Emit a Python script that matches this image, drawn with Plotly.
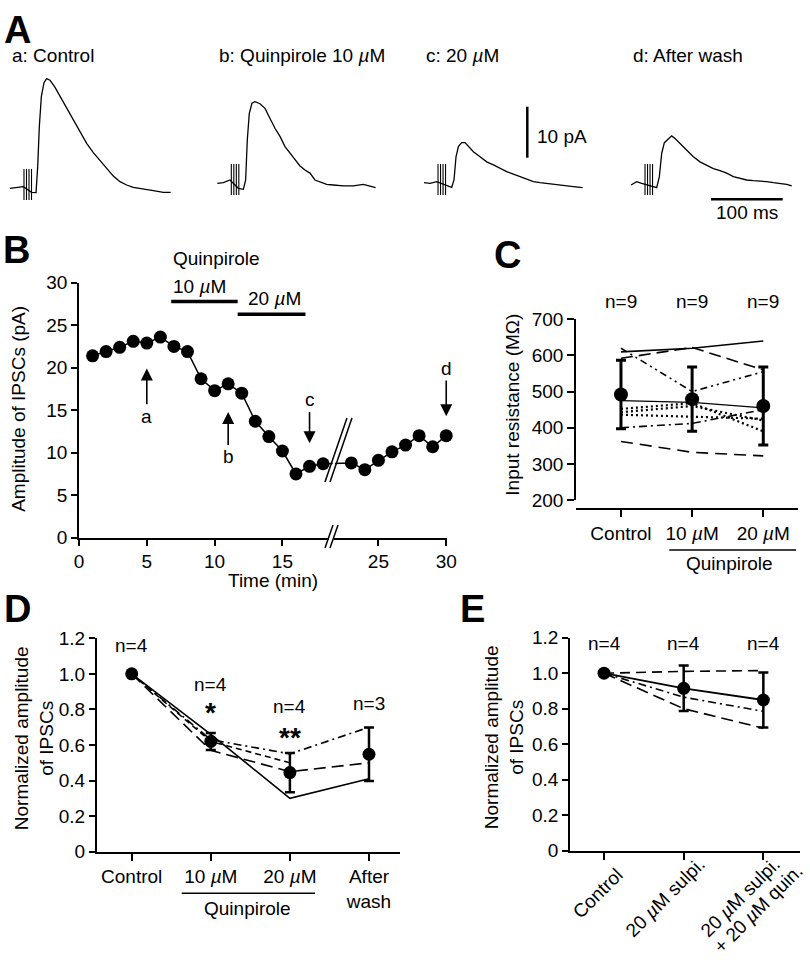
import plotly.graph_objects as go

FONT = "Liberation Sans, Arial, Helvetica, sans-serif"

# ---------------- Panel A: sample IPSC traces (ms from trace start, pA above baseline)
trace_a_t = [0, 9.3, 18.6, 30.2, 36.3, 38.6, 40.9, 43.7, 47.4, 51.1, 55.8, 62.8, 69.7, 79.0, 88.3, 97.6,
             106.9, 116.2, 125.5, 134.8, 144.1, 153.4, 162.7, 172.0, 186.0, 199.9, 213.9, 224.1]
trace_a_i = [0, 0.13, 0.33, -0.78, -0.85, 4.2, 12.1, 18.0, 20.7, 21.5, 21.2, 19.8, 18.1, 15.9, 13.4, 11.1,
             8.8, 7.0, 5.4, 3.9, 2.4, 1.3, 0.65, 0.2, -0.2, -0.46, -0.78, -0.78]
trace_b_t = [0, 8.4, 17.7, 29.3, 36.3, 39.5, 41.8, 44.6, 48.3, 52.5, 59.5, 66.5, 73.5, 80.4, 87.4, 94.4,
             101.4, 108.3, 115.3, 122.3, 129.2, 136.2, 143.2, 152.5, 161.8, 175.7, 189.7, 203.6, 220.8]
trace_b_i = [0, 0.13, 0.65, -0.98, -1.18, 0.65, 8.5, 13.7, 15.7, 16.0, 15.6, 14.7, 12.7, 10.8, 9.2, 7.2,
             5.9, 4.6, 3.4, 2.6, 2.0, 0.65, 0.33, -0.2, -0.33, -0.52, -0.52, -0.2, -0.85]
trace_c_t = [0, 8.4, 17.7, 31.6, 38.6, 41.8, 44.6, 47.9, 52.5, 57.2, 61.8, 68.8, 78.1, 87.4, 96.7, 106.0,
             115.3, 124.6, 133.9, 143.2, 152.5, 161.8, 171.1, 180.4, 189.7, 198.9, 208.3, 221.3]
trace_c_i = [0.13, 0, 0.33, -0.33, -0.78, 0.65, 5.2, 7.2, 7.97, 7.97, 7.3, 6.2, 5.2, 4.2, 3.6, 2.9,
             2.3, 1.8, 1.3, 0.85, 0.33, 0.13, 0, -0.13, -0.33, -0.52, -0.65, -0.85]
trace_d_t = [0, 7.9, 14.9, 31.1, 35.8, 39.5, 42.8, 46.5, 52.1, 56.7, 61.4, 68.3, 77.6, 86.9, 96.2, 105.5,
             114.8, 124.1, 133.4, 142.7, 152.0, 161.3, 170.6, 179.9, 189.2, 198.5, 207.8, 217.1, 224.1]
trace_d_i = [-0.33, 0.33, 0, -0.65, -0.85, 1.3, 5.9, 7.97, 8.8, 9.3, 8.8, 7.8, 6.5, 5.2, 4.2, 3.5,
             2.9, 2.5, 2.0, 1.3, 0.98, 0.65, 0.52, 0.46, 0.33, 0.13, 0, -0.2, -0.52]
trace_labels = ["a: Control", "b: Quinpirole 10 <i>µ</i>M", "c: 20 <i>µ</i>M", "d: After wash"]
artifact_t = [19.5, 23.0, 26.5, 30.0]          # stimulus artefact (ms)
artifact_range = [-2.3, 3.8]                   # pA
SCALE_PA = 10
SCALE_MS = 100

# ---------------- Panel B: time course
time_pre = list(range(1, 19))
amp_pre = [21.4, 21.9, 22.4, 23.1, 22.9, 23.6, 22.5, 21.9, 18.7, 17.3, 18.1, 17.0, 13.7, 11.9, 10.2, 7.5, 8.4, 8.7]
time_post = list(range(23, 31))
amp_post = [8.8, 8.0, 9.1, 10.1, 10.9, 12.0, 10.7, 12.0]
quin_10 = [6.8, 11.7]
quin_20 = [11.7, 16.7]
sample_marks = {"a": 5, "b": 11, "c": 17, "d": 30}

# ---------------- Panel C: input resistance
c_cats = ["Control", "10 <i>µ</i>M", "20 <i>µ</i>M"]
c_cells = [
    [610, 620, 640],
    [592, 622, 560],
    [620, 500, 555],
    [475, 470, 455],
    [452, 468, 390],
    [443, 460, 420],
    [436, 430, 425],
    [400, 412, 450],
    [362, 332, 322],
]
c_mean = [492, 479, 460]
c_err = [95, 89, 108]
c_n = ["n=9", "n=9", "n=9"]

# ---------------- Panel D: normalized amplitude, quinpirole
d_cats = ["Control", "10 <i>µ</i>M", "20 <i>µ</i>M", "After<br>wash"]
d_cells = [
    [1.0, 0.66, 0.30, 0.41],
    [1.0, 0.63, 0.55, 0.70],
    [1.0, 0.57, 0.45, 0.50],
    [1.0, 0.62, 0.50, None],
]
d_mean = [1.0, 0.62, 0.445, 0.548]
d_err = [0, 0.048, 0.11, 0.15]
d_n = ["n=4", "n=4", "n=4", "n=3"]

# ---------------- Panel E: normalized amplitude, sulpiride
e_cats = ["Control", "20 <i>µ</i>M sulpi.", "20 <i>µ</i>M sulpi.", "+ 20 <i>µ</i>M quin."]
e_cells = [
    [1.0, 1.01, 1.015],
    [1.0, 0.865, 0.785],
    [1.0, 0.80, 0.69],
]
e_mean = [1.0, 0.915, 0.849]
e_err = [0, 0.128, 0.155]
e_n = ["n=4", "n=4", "n=4"]

BREAK_GAP = 2.92  # minutes removed by the axis break in B


def shift(t):
    return t if t < 20 else t - BREAK_GAP


def ppx(p):
    return p / 810


def ppy(p):
    return 1 - p / 960


fig = go.Figure()
BLK = "black"

# ---- A traces
offsets = [13.95, 303.1, 591.4, 880.1]
bases = [0, 0.98, 0.98, 0.98]
for t, i, off, base in zip([trace_a_t, trace_b_t, trace_c_t, trace_d_t],
                           [trace_a_i, trace_b_i, trace_c_i, trace_d_i], offsets, bases):
    fig.add_trace(go.Scatter(x=[off + v for v in t], y=[base + v for v in i], mode="lines",
                             line=dict(color=BLK, width=1.3), xaxis="x", yaxis="y"))
    ax_, ay_ = [], []
    for a in artifact_t:
        ax_ += [off + a, off + a, None]
        ay_ += [base + artifact_range[0], base + artifact_range[1], None]
    fig.add_trace(go.Scatter(x=ax_, y=ay_, mode="lines", line=dict(color=BLK, width=1.1),
                             xaxis="x", yaxis="y"))
# scale bars
fig.add_trace(go.Scatter(x=[735.4, 735.4], y=[6.0, 6.0 + SCALE_PA], mode="lines",
                         line=dict(color=BLK, width=2.5), xaxis="x", yaxis="y"))
fig.add_trace(go.Scatter(x=[991.6, 991.6 + SCALE_MS], y=[-2.16, -2.16], mode="lines",
                         line=dict(color=BLK, width=2.5), xaxis="x", yaxis="y"))

# ---- B
for xs, ys in [(quin_10, 27.8), (quin_20, 26.3)]:
    fig.add_trace(go.Scatter(x=xs, y=[ys, ys], mode="lines", line=dict(color=BLK, width=3.5),
                             xaxis="x2", yaxis="y2"))
fig.add_trace(go.Scatter(x=[shift(t) for t in time_pre + time_post], y=amp_pre + amp_post,
                         mode="lines+markers", line=dict(color=BLK, width=1.5),
                         marker=dict(color=BLK, size=13), cliponaxis=False,
                         xaxis="x2", yaxis="y2"))

# ---- C
c_dash = ["solid", "12px,6px", "7px,4px,2px,4px,2px,4px", "solid", "2px,3px", "2px,3px", "2px,3px",
          "8px,4px,2px,4px", "12px,7px"]
c_width = [1.6, 1.6, 1.6, 1.1, 2.2, 2.2, 2.2, 1.6, 1.6]
for vals, dsh, w in zip(c_cells, c_dash, c_width):
    fig.add_trace(go.Scatter(x=[0, 1, 2], y=vals, mode="lines", line=dict(color=BLK, width=w, dash=dsh),
                             xaxis="x3", yaxis="y3"))
fig.add_trace(go.Scatter(x=[0, 1, 2], y=c_mean, mode="markers", marker=dict(color=BLK, size=14),
                         error_y=dict(type="data", array=c_err, color=BLK, thickness=3, width=5),
                         xaxis="x3", yaxis="y3"))

# ---- D
d_dash = ["solid", "8px,4px,2px,4px", "12px,6px", "6px,4px"]
for vals, dsh in zip(d_cells, d_dash):
    xs = [k for k, v in enumerate(vals) if v is not None]
    fig.add_trace(go.Scatter(x=xs, y=[vals[k] for k in xs], mode="lines",
                             line=dict(color=BLK, width=1.6, dash=dsh), xaxis="x4", yaxis="y4"))
fig.add_trace(go.Scatter(x=[0, 1, 2, 3], y=d_mean, mode="markers", marker=dict(color=BLK, size=13),
                         error_y=dict(type="data", array=d_err, color=BLK, thickness=2.5, width=5),
                         xaxis="x4", yaxis="y4"))

# ---- E
e_dash = ["10px,6px", "8px,4px,2px,4px", "12px,6px"]
for vals, dsh in zip(e_cells, e_dash):
    fig.add_trace(go.Scatter(x=[0, 1, 2], y=vals, mode="lines", line=dict(color=BLK, width=1.6, dash=dsh),
                             xaxis="x5", yaxis="y5"))
fig.add_trace(go.Scatter(x=[0, 1, 2], y=e_mean, mode="lines+markers", line=dict(color=BLK, width=1.8),
                         marker=dict(color=BLK, size=13),
                         error_y=dict(type="data", array=e_err, color=BLK, thickness=2.5, width=5),
                         xaxis="x5", yaxis="y5"))

# ---- axes
common = dict(showgrid=False, zeroline=False, showline=True, linecolor=BLK, linewidth=1.6,
              ticks="outside", tickcolor=BLK, tickwidth=1.6, ticklen=6, fixedrange=True, automargin=False,
              tickfont=dict(family=FONT, size=19, color=BLK))
norm_ticks = [0, 0.2, 0.4, 0.6, 0.8, 1.0, 1.2]
norm_text = ["0", "0.2", "0.4", "0.6", "0.8", "1.0", "1.2"]

fig.update_layout(
    width=810, height=960, margin=dict(l=0, r=0, t=0, b=0, pad=0, autoexpand=False),
    paper_bgcolor="white", plot_bgcolor="white", showlegend=False,
    font=dict(family=FONT, size=19, color=BLK),
    xaxis=dict(visible=False, domain=[0, 1], range=[0, 1129.7], anchor="y", fixedrange=True),
    yaxis=dict(visible=False, domain=[ppy(215), ppy(40)], range=[-5.235, 29.08], anchor="x", fixedrange=True),
    xaxis2=dict(common, domain=[ppx(79), ppx(446.5)], range=[0, 27.1], anchor="y2",
                tickvals=[shift(t) for t in [0, 5, 10, 15, 25, 30]], ticktext=["0", "5", "10", "15", "25", "30"]),
    yaxis2=dict(common, domain=[ppy(537.7), ppy(282.7)], range=[0, 30], anchor="x2",
                tickvals=[0, 5, 10, 15, 20, 25, 30]),
    xaxis3=dict(common, domain=[ppx(576), ppx(798)], range=[-0.632, 2.488], anchor="free",
                position=ppy(509.3), tickvals=[0, 1, 2], ticktext=c_cats, ticklen=7),
    yaxis3=dict(common, domain=[ppy(500), ppy(319.3)], range=[200, 700], anchor="x3",
                tickvals=[200, 300, 400, 500, 600, 700], ticklen=7),
    xaxis4=dict(common, domain=[ppx(96.7), ppx(400)], range=[-0.4425, 3.392], anchor="y4",
                tickvals=[0, 1, 2, 3], ticktext=d_cats, ticklen=7),
    yaxis4=dict(common, domain=[ppy(851.7), ppy(638.3)], range=[0, 1.2], anchor="x4",
                tickvals=norm_ticks, ticktext=norm_text),
    xaxis5=dict(common, domain=[ppx(570), ppx(800)], range=[-0.427, 2.46], anchor="y5",
                tickvals=[0, 1, 2], showticklabels=False, ticklen=7),
    yaxis5=dict(common, domain=[ppy(850.7), ppy(637.7)], range=[0, 1.2], anchor="x5",
                tickvals=norm_ticks, ticktext=norm_text),
)

# ---- shapes
shapes = []
# B: break in data line
b1 = [(18.14, 6.55), (19.76, 14.08)]
b2 = [(18.51, 6.55), (20.13, 14.08)]
shapes.append(dict(type="path", xref="x2", yref="y2",
                   path=f"M{b1[0][0]+0.1},{b1[0][1]} L{b1[1][0]+0.1},{b1[1][1]} "
                        f"L{b2[1][0]-0.1},{b2[1][1]} L{b2[0][0]-0.1},{b2[0][1]} Z",
                   fillcolor="white", line=dict(width=0)))
for seg in (b1, b2):
    shapes.append(dict(type="line", xref="x2", yref="y2", x0=seg[0][0], y0=seg[0][1],
                       x1=seg[1][0], y1=seg[1][1], line=dict(color=BLK, width=1.5)))
# B: break on the time axis
shapes.append(dict(type="rect", xref="x2", yref="y2 domain", x0=18.42, x1=18.76, y0=-0.012, y1=0.012,
                   fillcolor="white", line=dict(width=0)))
for x0 in (18.14, 18.51):
    shapes.append(dict(type="line", xref="x2", yref="y2 domain", x0=x0, y0=-0.04, x1=x0 + 0.59, y1=0.05,
                       line=dict(color=BLK, width=1.5)))
# C and D: "Quinpirole" underline
shapes.append(dict(type="line", xref="x3", yref="paper", x0=0.679, x1=2.46, y0=ppy(550), y1=ppy(550),
                   line=dict(color=BLK, width=1.6)))
shapes.append(dict(type="line", xref="x4", yref="paper", x0=0.632, x1=2.317, y0=ppy(893.3), y1=ppy(893.3),
                   line=dict(color=BLK, width=1.6)))
fig.update_layout(shapes=shapes)

# ---- annotations
ann = []


def txt(text, x, y, xref="paper", yref="paper", size=19, xanchor="center", yanchor="middle", angle=0, **kw):
    ann.append(dict(text=text, x=x, y=y, xref=xref, yref=yref, showarrow=False, textangle=angle,
                    font=dict(family=FONT, size=size, color=BLK), xanchor=xanchor, yanchor=yanchor, **kw))


# panel letters
for letter, cx, cy in [("A", 17, 30), ("B", 16.5, 250), ("C", 507.5, 255), ("D", 17.5, 609), ("E", 472.5, 609)]:
    txt(f"<b>{letter}</b>", ppx(cx), ppy(cy), size=38)

# A labels
for lab, off in zip(trace_labels, offsets):
    txt(lab, off, 26.1, xref="x", yref="y", xanchor="left")
txt("10 pA", 746.2, 10.25, xref="x", yref="y", xanchor="left")
txt("100 ms", 991.6 + SCALE_MS / 2, -4.84, xref="x", yref="y")

# B labels
txt("Quinpirole", 6.8, ppy(258), xref="x2", yref="paper", xanchor="left")
txt("10 <i>µ</i>M", 6.8, 29.6, xref="x2", yref="y2", xanchor="left")
txt("20 <i>µ</i>M", 12.3, 28.1, xref="x2", yref="y2", xanchor="left")
txt("Time (min)", 14.3, ppy(580), xref="x2", yref="paper")
txt("Amplitude of IPSCs (pA)", ppx(18.3), ppy(408.5), angle=-90)
arrow_specs = {"a": (19.9, 14.3), "b": (14.8, 9.5), "c": (11.1, 16.2), "d": (14.3, 19.9)}
for key, t in sample_marks.items():
    tip, lab = arrow_specs[key]
    ann.append(dict(text=key, x=shift(t), y=tip, xref="x2", yref="y2", ax=shift(t), ay=lab,
                    axref="x2", ayref="y2", showarrow=True, arrowhead=2, arrowsize=1.5, arrowwidth=1.6,
                    arrowcolor=BLK, standoff=0, font=dict(family=FONT, size=19, color=BLK)))

# C labels
for k, lab in enumerate(c_n):
    txt(lab, k, ppy(301.7), xref="x3", yref="paper")
txt("Quinpirole", 1.53, ppy(563), xref="x3", yref="paper")
txt("Input resistance (MΩ)", ppx(511.7), ppy(405), angle=-90)

# D labels
for k, (lab, yv) in enumerate(zip(d_n, [1.161, 0.9375, 0.815, 0.835])):
    txt(lab, k, yv, xref="x4", yref="y4")
txt("<b>*</b>", 1, 0.78, xref="x4", yref="y4", size=28)
txt("<b>**</b>", 2, 0.64, xref="x4", yref="y4", size=28)
txt("Quinpirole", 1.458, ppy(908.3), xref="x4", yref="paper")
txt("Normalized amplitude<br>of IPSCs", ppx(34.2), ppy(738), angle=-90)

# E labels
for k, lab in enumerate(e_n):
    txt(lab, k, 1.168, xref="x5", yref="y5")
# rotated category labels (one annotation per text line)
for lab, cx, cy in zip(e_cats, [597.5, 665, 740, 758.3], [893.3, 897.5, 897.5, 908.3]):
    txt(lab, ppx(cx), ppy(cy), angle=-45)
txt("Normalized amplitude<br>of IPSCs", ppx(504.2), ppy(737), angle=-90)

fig.update_layout(annotations=ann)
fig.write_html("out.html", config={"displayModeBar": False},
               post_script="document.body.style.margin = '0';")
